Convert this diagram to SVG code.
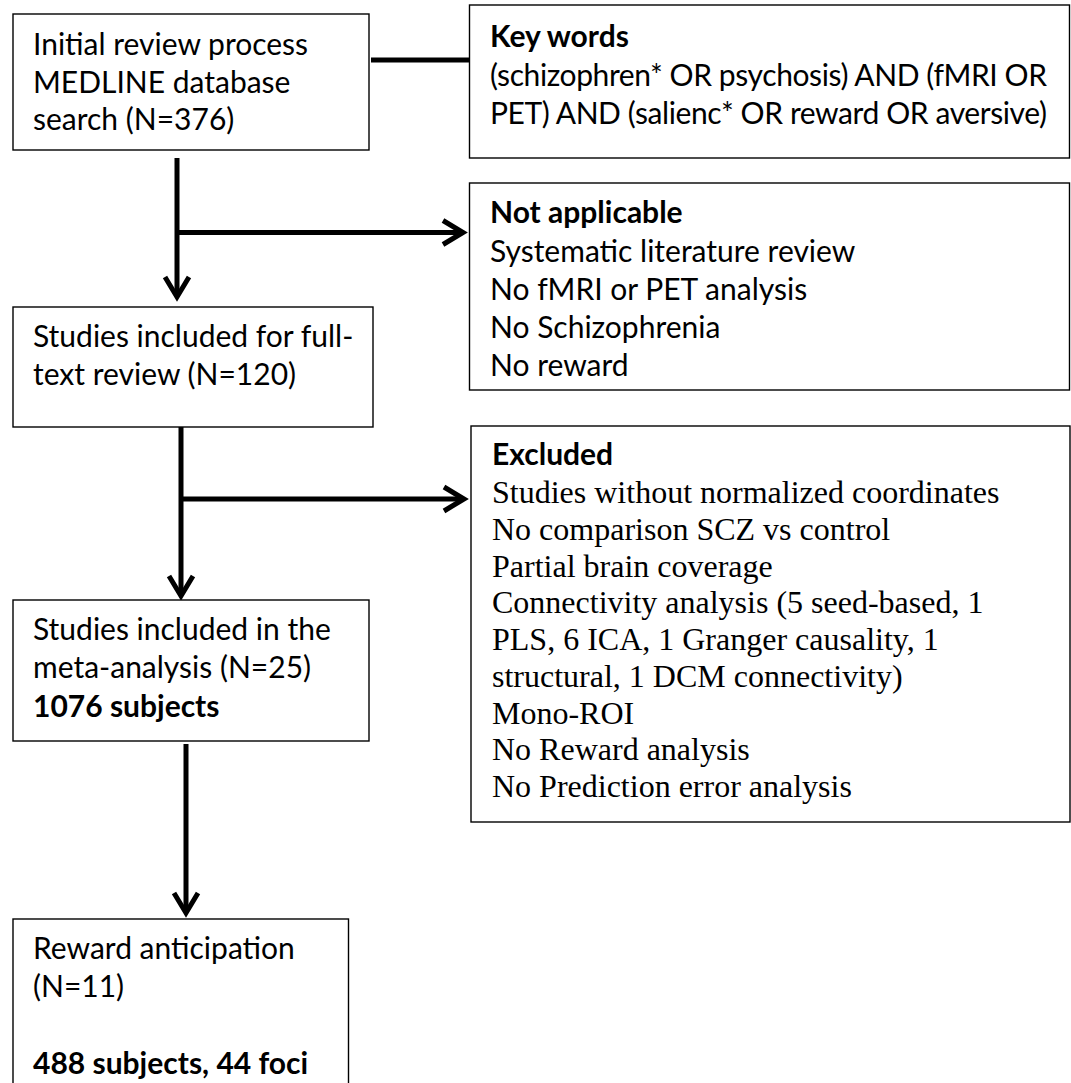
<svg xmlns="http://www.w3.org/2000/svg" width="1071" height="1083" viewBox="0 0 1071 1083">
<defs>
<style>
.box{fill:#fff;stroke:#000;stroke-width:1.4}
.t{font-family:Lato,"Open Sans","Liberation Sans",sans-serif;font-size:30px;fill:#000}
.b{font-weight:bold}
.s{font-family:"Liberation Serif","Times New Roman",serif;font-size:32px;fill:#000}
.c{fill:none;stroke:#000;stroke-width:5}
</style>
<marker id="arr" markerUnits="userSpaceOnUse" viewBox="-26 -16 32 32" refX="0" refY="0" markerWidth="32" markerHeight="32" orient="auto" overflow="visible">
<path d="M-20,-12 L0,0 L-20,12" fill="none" stroke="#000" stroke-width="5"/>
</marker>
</defs>
<rect width="1071" height="1083" fill="#fff"/>
<g id="connectors">
<line class="c" x1="371" y1="60" x2="470" y2="60"/>
<line class="c" x1="177" y1="158" x2="177" y2="297" marker-end="url(#arr)"/>
<line class="c" x1="177" y1="232.5" x2="463" y2="232.5" marker-end="url(#arr)"/>
<line class="c" x1="181" y1="427" x2="181" y2="596" marker-end="url(#arr)"/>
<line class="c" x1="181" y1="499" x2="464" y2="499" marker-end="url(#arr)"/>
<line class="c" x1="186" y1="744" x2="186" y2="913" marker-end="url(#arr)"/>
</g>
<g id="initial">
<rect class="box" x="13" y="14" width="356" height="136"/>
<text class="t" x="33" y="55">Initial review process</text>
<text class="t" x="33" y="93">MEDLINE database</text>
<text class="t" x="33" y="130">search (N=376)</text>
</g>
<g id="keywords">
<rect class="box" x="469.5" y="5" width="600" height="153"/>
<text class="t b" x="490" y="47">Key words</text>
<text class="t" x="490" y="86" textLength="557">(schizophren* OR psychosis) AND (fMRI OR</text>
<text class="t" x="490" y="124" textLength="557">PET) AND (salienc* OR reward OR aversive)</text>
</g>
<g id="notapplicable">
<rect class="box" x="469.5" y="183" width="600" height="207"/>
<text class="t b" x="490" y="223">Not applicable</text>
<text class="t" x="490" y="262">Systematic literature review</text>
<text class="t" x="490" y="300">No fMRI or PET analysis</text>
<text class="t" x="490" y="338">No Schizophrenia</text>
<text class="t" x="490" y="376">No reward</text>
</g>
<g id="fulltext">
<rect class="box" x="13" y="307" width="360" height="120"/>
<text class="t" x="33" y="347">Studies included for full-</text>
<text class="t" x="33" y="385">text review (N=120)</text>
</g>
<g id="excluded">
<rect class="box" x="471" y="426" width="599" height="396"/>
<text class="t b" x="492" y="465">Excluded</text>
<text class="s" x="492" y="503">Studies without normalized coordinates</text>
<text class="s" x="492" y="540">No comparison SCZ vs control</text>
<text class="s" x="492" y="577">Partial brain coverage</text>
<text class="s" x="492" y="613">Connectivity analysis (5 seed-based, 1</text>
<text class="s" x="492" y="650">PLS, 6 ICA, 1 Granger causality, 1</text>
<text class="s" x="492" y="687">structural, 1 DCM connectivity)</text>
<text class="s" x="492" y="724">Mono-ROI</text>
<text class="s" x="492" y="760">No Reward analysis</text>
<text class="s" x="492" y="797">No Prediction error analysis</text>
</g>
<g id="metaanalysis">
<rect class="box" x="13" y="600" width="356" height="141"/>
<text class="t" x="33" y="640">Studies included in the</text>
<text class="t" x="33" y="678">meta-analysis (N=25)</text>
<text class="t b" x="33" y="717">1076 subjects</text>
</g>
<g id="reward">
<rect class="box" x="13" y="919" width="335.5" height="180"/>
<text class="t" x="33" y="959">Reward anticipation</text>
<text class="t" x="33" y="997">(N=11)</text>
<text class="t b" x="33" y="1074">488 subjects, 44 foci</text>
</g>
</svg>
